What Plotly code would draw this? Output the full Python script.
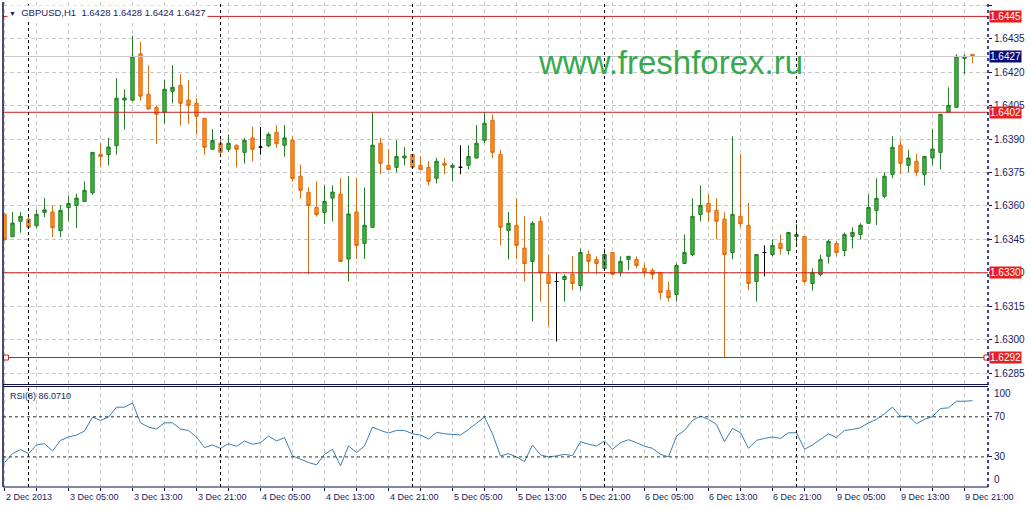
import plotly.graph_objects as go
import pandas as pd

# H1 bars, weekend hours are skipped like the terminal does
times = list(pd.date_range("2013-12-02 21:00", "2013-12-06 23:00", freq="h")) + \
        list(pd.date_range("2013-12-09 00:00", "2013-12-09 22:00", freq="h"))
bars = [t.strftime("%d %b %H:%M") for t in times]

opens = [
    1.63563, 1.63462, 1.63531, 1.63541, 1.63511, 1.63571, 1.63573, 1.63489, 1.63592, 1.63602,
    1.63620, 1.63659, 1.63831, 1.63830, 1.63870, 1.64075, 1.64074, 1.64282, 1.64101, 1.64041,
    1.64020, 1.64114, 1.64141, 1.64075, 1.64060, 1.63993, 1.63854, 1.63881, 1.63854, 1.63872,
    1.63840, 1.63905, 1.63864, 1.63870, 1.63930, 1.63872, 1.63894, 1.63733, 1.63661, 1.63593,
    1.63571, 1.63635, 1.63653, 1.63362, 1.63573, 1.63432, 1.63504, 1.63881, 1.63782, 1.63773,
    1.63815, 1.63831, 1.63782, 1.63773, 1.63724, 1.63791, 1.63773, 1.63773, 1.63782, 1.63815,
    1.63894, 1.63984, 1.63831, 1.63490, 1.63513, 1.63411, 1.63351, 1.63531, 1.63293, 1.63261,
    1.63270, 1.63293, 1.63243, 1.63382, 1.63360, 1.63320, 1.63391, 1.63302, 1.63360, 1.63360,
    1.63320, 1.63311, 1.63302, 1.63221, 1.63203, 1.63342, 1.63382, 1.63562, 1.63611, 1.63580,
    1.63541, 1.63391, 1.63553, 1.63513, 1.63261, 1.63391, 1.63382, 1.63432, 1.63400, 1.63463,
    1.63463, 1.63252, 1.63293, 1.63374, 1.63432, 1.63400, 1.63463, 1.63472, 1.63522, 1.63580,
    1.63643, 1.63742, 1.63872, 1.63782, 1.63800, 1.63742, 1.63815, 1.63840, 1.64020, 1.64042,
    1.64262, 1.64280,
]
highs = [
    1.63566, 1.63573, 1.63573, 1.63563, 1.63583, 1.63635, 1.63604, 1.63602, 1.63646, 1.63655,
    1.63710, 1.63842, 1.63882, 1.63905, 1.64173, 1.64123, 1.64364, 1.64336, 1.64231, 1.64051,
    1.64164, 1.64231, 1.64192, 1.64164, 1.64083, 1.63995, 1.63944, 1.63912, 1.63921, 1.63875,
    1.63905, 1.63954, 1.63954, 1.63930, 1.63963, 1.63963, 1.63912, 1.63785, 1.63683, 1.63710,
    1.63692, 1.63692, 1.63724, 1.63733, 1.63724, 1.63683, 1.64020, 1.63905, 1.63855, 1.63894,
    1.63863, 1.63833, 1.63822, 1.63800, 1.63815, 1.63815, 1.63791, 1.63872, 1.63872, 1.63963,
    1.64020, 1.64011, 1.63852, 1.63573, 1.63634, 1.63553, 1.63531, 1.63553, 1.63382, 1.63302,
    1.63293, 1.63374, 1.63409, 1.63400, 1.63374, 1.63409, 1.63393, 1.63374, 1.63375, 1.63374,
    1.63342, 1.63320, 1.63303, 1.63261, 1.63342, 1.63472, 1.63634, 1.63692, 1.63652, 1.63634,
    1.63571, 1.63912, 1.63833, 1.63613, 1.63383, 1.63423, 1.63450, 1.63472, 1.63482, 1.63520,
    1.63465, 1.63320, 1.63382, 1.63450, 1.63441, 1.63481, 1.63504, 1.63522, 1.63652, 1.63724,
    1.63751, 1.63912, 1.63894, 1.63852, 1.63833, 1.63823, 1.63944, 1.64012, 1.64132, 1.64280,
    1.64280, 1.64280,
]
lows = [
    1.63446, 1.63460, 1.63480, 1.63502, 1.63501, 1.63550, 1.63460, 1.63460, 1.63535, 1.63501,
    1.63618, 1.63650, 1.63773, 1.63781, 1.63830, 1.63942, 1.64070, 1.64072, 1.64033, 1.63879,
    1.63969, 1.64060, 1.63960, 1.63969, 1.63920, 1.63830, 1.63852, 1.63822, 1.63842, 1.63773,
    1.63790, 1.63800, 1.63830, 1.63863, 1.63860, 1.63821, 1.63710, 1.63632, 1.63294, 1.63552,
    1.63520, 1.63531, 1.63349, 1.63261, 1.63362, 1.63362, 1.63502, 1.63742, 1.63762, 1.63751,
    1.63782, 1.63771, 1.63762, 1.63692, 1.63701, 1.63742, 1.63710, 1.63742, 1.63764, 1.63813,
    1.63881, 1.63815, 1.63423, 1.63360, 1.63360, 1.63261, 1.63082, 1.63171, 1.63059, 1.62992,
    1.63171, 1.63221, 1.63221, 1.63302, 1.63293, 1.63318, 1.63291, 1.63284, 1.63311, 1.63320,
    1.63284, 1.63270, 1.63180, 1.63171, 1.63171, 1.63340, 1.63374, 1.63531, 1.63531, 1.63450,
    1.62920, 1.63360, 1.63504, 1.63221, 1.63171, 1.63284, 1.63374, 1.63382, 1.63382, 1.63423,
    1.63252, 1.63221, 1.63284, 1.63342, 1.63374, 1.63374, 1.63409, 1.63450, 1.63520, 1.63513,
    1.63634, 1.63724, 1.63742, 1.63751, 1.63733, 1.63692, 1.63782, 1.63764, 1.64018, 1.64040,
    1.64191, 1.64240,
]
closes = [
    1.63448, 1.63523, 1.63553, 1.63504, 1.63562, 1.63582, 1.63502, 1.63580, 1.63611, 1.63635,
    1.63670, 1.63840, 1.63821, 1.63864, 1.64083, 1.64084, 1.64271, 1.64092, 1.64035, 1.64011,
    1.64123, 1.64132, 1.64060, 1.64051, 1.64002, 1.63863, 1.63893, 1.63840, 1.63881, 1.63854,
    1.63894, 1.63854, 1.63864, 1.63921, 1.63879, 1.63905, 1.63722, 1.63670, 1.63602, 1.63561,
    1.63620, 1.63662, 1.63351, 1.63564, 1.63423, 1.63513, 1.63872, 1.63791, 1.63764, 1.63822,
    1.63824, 1.63773, 1.63764, 1.63710, 1.63800, 1.63782, 1.63782, 1.63773, 1.63822, 1.63881,
    1.63971, 1.63840, 1.63504, 1.63522, 1.63423, 1.63342, 1.63522, 1.63302, 1.63252, 1.63261,
    1.63284, 1.63252, 1.63391, 1.63351, 1.63342, 1.63382, 1.63293, 1.63351, 1.63374, 1.63333,
    1.63302, 1.63293, 1.63212, 1.63189, 1.63333, 1.63391, 1.63553, 1.63602, 1.63573, 1.63531,
    1.63382, 1.63562, 1.63520, 1.63252, 1.63382, 1.63391, 1.63423, 1.63409, 1.63481, 1.63472,
    1.63261, 1.63302, 1.63360, 1.63441, 1.63391, 1.63472, 1.63481, 1.63513, 1.63593, 1.63634,
    1.63733, 1.63863, 1.63791, 1.63815, 1.63751, 1.63822, 1.63855, 1.64011, 1.64051, 1.64271,
    1.64271, 1.64270,
]
rsi = [
    24.4, 33.3, 37.3, 33.3, 41.9, 43.2, 36.0, 46.5, 49.8, 51.8,
    55.8, 69.7, 66.4, 69.7, 79.6, 79.6, 83.9, 64.0, 59.8, 57.8,
    64.0, 64.0, 57.8, 56.4, 49.8, 39.3, 41.9, 38.6, 43.2, 40.6,
    45.9, 42.6, 44.2, 50.8, 45.9, 49.2, 31.0, 27.7, 24.4, 22.1,
    32.6, 37.6, 21.1, 40.9, 34.3, 40.9, 59.8, 56.4, 53.8, 56.4,
    56.4, 53.1, 51.8, 47.9, 54.5, 53.1, 52.5, 51.8, 57.4, 63.1,
    69.7, 53.1, 31.0, 33.3, 30.0, 25.4, 41.9, 32.0, 30.0, 31.0,
    32.6, 31.3, 45.2, 42.6, 40.9, 45.9, 37.6, 44.2, 47.2, 44.2,
    40.6, 38.6, 32.6, 30.0, 50.8, 56.4, 66.4, 70.7, 67.4, 62.4,
    45.2, 58.4, 54.1, 38.6, 46.5, 48.5, 49.8, 48.5, 54.1, 54.1,
    37.6, 41.9, 47.2, 53.1, 49.2, 56.4, 57.4, 59.1, 64.0, 67.4,
    73.0, 79.6, 70.3, 70.7, 63.1, 67.4, 70.3, 78.3, 78.9, 85.5,
    85.5, 86.07,
]

time_labels = ["2 Dec 2013", "3 Dec 05:00", "3 Dec 13:00", "3 Dec 21:00", "4 Dec 05:00",
               "4 Dec 13:00", "4 Dec 21:00", "5 Dec 05:00", "5 Dec 13:00", "5 Dec 21:00",
               "6 Dec 05:00", "6 Dec 13:00", "6 Dec 21:00", "9 Dec 05:00", "9 Dec 13:00",
               "9 Dec 21:00"]
price_ticks = [1.6285, 1.6300, 1.6315, 1.6330, 1.6345, 1.6360, 1.6375, 1.6390,
               1.6405, 1.6420, 1.6435, 1.6450]
h_lines = [1.6445, 1.6402, 1.6330, 1.6292]
bid = 1.6427
rsi_levels = [30, 70]

FONT = "Liberation Sans, Arial, sans-serif"
NAVY = "#1a1a5e"
RED_LINE = "#c8201e"
RED_BOX = "#e81f1f"
GRID = "#c8c8c8"

MAIN_DOM = [0.2124, 1.0]
RSI_DOM = [0.0, 0.2082]

fig = go.Figure()

styles = {
    "bull": ("#3bb53b", "#267a26"),
    "bear": ("#ff8a1e", "#d96c12"),
    "doji": ("#000000", "#000000"),
}
n = len(opens)
groups = {
    "bull": [i for i in range(n) if closes[i] > opens[i]],
    "bear": [i for i in range(n) if closes[i] < opens[i]],
    "doji": [i for i in range(n) if closes[i] == opens[i]],
}
for key, idx in groups.items():
    fill, edge = styles[key]
    side = dict(line=dict(color=edge, width=1), fillcolor=fill)
    fig.add_trace(go.Candlestick(
        x=[bars[i] for i in idx],
        open=[opens[i] for i in idx],
        high=[highs[i] for i in idx],
        low=[lows[i] for i in idx],
        close=[closes[i] for i in idx],
        increasing=side, decreasing=side,
        whiskerwidth=0, name=key,
    ))

fig.add_trace(go.Scatter(
    x=bars, y=rsi, mode="lines", xaxis="x2", yaxis="y2",
    line=dict(color="#3b7fb5", width=1), name="RSI(8)",
))

shapes = []
# period separators at midnight
for b, t in zip(bars, times):
    if t.hour == 0:
        shapes.append(dict(type="line", xref="x", yref="paper", x0=b, x1=b, y0=0, y1=1,
                           line=dict(color="#000000", width=1, dash="3px,3px")))
shapes.append(dict(type="line", xref="paper", yref="y", x0=0, x1=1, y0=bid, y1=bid,
                   line=dict(color="#c8c8c8", width=1)))
for lv in h_lines:
    shapes.append(dict(type="line", xref="paper", yref="y", x0=0, x1=1, y0=lv, y1=lv,
                       line=dict(color=RED_LINE, width=1)))
# selection handles of the lowest line
for px in [0.003, 0.9985]:
    shapes.append(dict(type="rect", xref="paper", yref="y", xsizemode="pixel", ysizemode="pixel",
                       xanchor=px, yanchor=h_lines[-1], x0=-2.5, x1=2.5, y0=-2.5, y1=2.5,
                       fillcolor="white", line=dict(color=RED_LINE, width=1)))
for lv in rsi_levels:
    shapes.append(dict(type="line", xref="paper", yref="y2", x0=0, x1=1, y0=lv, y1=lv,
                       line=dict(color="#243424", width=1, dash="3px,3px")))
# window borders
BORDER = "#10104a"
for y in [0.2113, 0.2072, 0]:
    shapes.append(dict(type="line", xref="paper", yref="paper", x0=0, x1=1, y0=y, y1=y,
                       line=dict(color=BORDER, width=1)))
shapes.append(dict(type="line", xref="paper", yref="paper", x0=0, x1=0, y0=0, y1=1,
                   line=dict(color=BORDER, width=1.5)))
shapes.append(dict(type="line", xref="paper", yref="paper", x0=1, x1=1, y0=0, y1=1,
                   line=dict(color="#000080", width=1.5, dash="dot")))

annotations = []
for b, lab in zip(bars[::8], time_labels):
    annotations.append(dict(x=b, xref="x2", y=0, yref="paper", text=lab, showarrow=False,
                            xanchor="left", yanchor="top", yshift=-3, xshift=-1,
                            font=dict(family=FONT, size=9, color=NAVY)))
for lv in h_lines:
    annotations.append(dict(x=1, xref="paper", y=lv, yref="y", text=f"{lv:.4f}", showarrow=False,
                            xanchor="left", xshift=1, bgcolor=RED_BOX, borderpad=0,
                            font=dict(family=FONT, size=10, color="white")))
annotations.append(dict(x=1, xref="paper", y=bid, yref="y", text=f"{bid:.4f}", showarrow=False,
                        xanchor="left", xshift=1, bgcolor="#0a0a78", borderpad=0,
                        font=dict(family=FONT, size=10, color="white")))
annotations.append(dict(x=1, xref="paper", y=100.7, yref="y2", text="100", showarrow=False,
                        xanchor="left", yanchor="top", xshift=4,
                        font=dict(family=FONT, size=10, color=NAVY)))
annotations.append(dict(x=1, xref="paper", y=0, yref="y2", text="0", showarrow=False,
                        xanchor="left", yanchor="bottom", xshift=4,
                        font=dict(family=FONT, size=10, color=NAVY)))
annotations.append(dict(x=0.004, xref="paper", y=1, yref="paper", yanchor="top", xanchor="left",
                        yshift=-3, showarrow=False, bgcolor="white", borderpad=1,
                        text="<span style='font-size:7px'>▼</span>&nbsp; GBPUSD,H1&nbsp; 1.6428 1.6428 1.6424 1.6427",
                        font=dict(family=FONT, size=9.5, color=NAVY)))
annotations.append(dict(x=0.005, xref="paper", y=RSI_DOM[1], yref="paper", yanchor="top",
                        xanchor="left", yshift=-3, showarrow=False, text="RSI(8) 86.0710",
                        font=dict(family=FONT, size=9, color=NAVY)))
annotations.append(dict(x=0.678, xref="paper", y=0.876, yref="paper", text="www.freshforex.ru",
                        xanchor="center", yanchor="middle", showarrow=False,
                        font=dict(family=FONT, size=33, color="#38a94e")))

xcommon = dict(type="category", categoryorder="array", categoryarray=bars,
               range=[-0.19, 122.94], tickvals=bars[::4],
               showticklabels=False, showgrid=True, gridcolor=GRID, griddash="4px,3px",
               gridwidth=1, zeroline=False, showline=False)

fig.update_layout(
    width=1031, height=509,
    margin=dict(l=3, r=43, t=2, b=22),
    paper_bgcolor="white", plot_bgcolor="white",
    showlegend=False, boxgap=0.4, hovermode=False,
    font=dict(family=FONT, size=10, color=NAVY),
    xaxis=dict(**xcommon, anchor="y", ticks="", rangeslider=dict(visible=False)),
    xaxis2=dict(**xcommon, anchor="y2", matches="x", ticks="outside", ticklen=3,
                tickcolor=BORDER),
    yaxis=dict(domain=MAIN_DOM, range=[1.628013, 1.645146], side="right",
               tickvals=price_ticks, tickformat=".4f", ticks="outside", ticklen=3,
               tickcolor=BORDER, showgrid=True, gridcolor=GRID, griddash="4px,3px",
               zeroline=False, showline=False, tickfont=dict(size=10, color=NAVY)),
    yaxis2=dict(domain=RSI_DOM, range=[0, 100.7], side="right", tickvals=rsi_levels,
                ticks="outside", ticklen=3, tickcolor=BORDER, showgrid=False,
                zeroline=False, showline=False, tickfont=dict(size=10, color=NAVY)),
    shapes=shapes, annotations=annotations,
)

# page body has a default margin; drop it so the chart sits at the window's corner
fig.write_html("out.html", config={"displayModeBar": False},
               post_script="document.body.style.margin='0';")
